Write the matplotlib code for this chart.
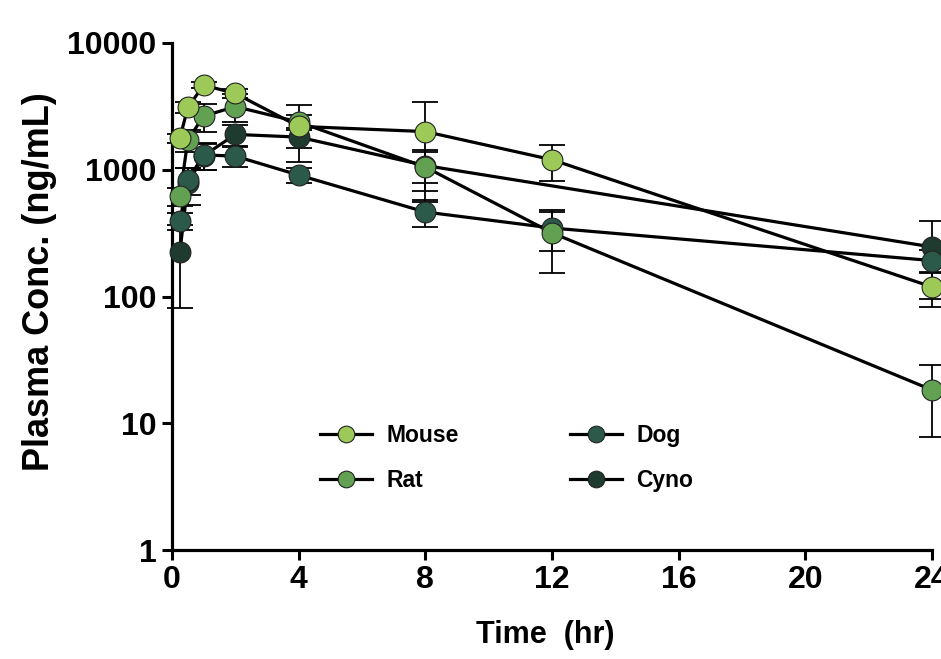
import numpy as np
import matplotlib
matplotlib.use("Agg")
import matplotlib.pyplot as plt
from matplotlib import font_manager as fm
from matplotlib.lines import Line2D

# ---- data ----
time = [0.25, 0.5, 1, 2, 4, 8, 12, 24]
time_cyno = [0.25, 0.5, 1, 2, 4, 8, 24]

mouse = [1780, 3100, 4650, 4000, 2200, 2000, 1200, 119]
mouse_sd = [150, 300, 250, 300, 1040, 1440, 380, 36]

rat = [620, 1720, 2650, 3150, 2380, 1050, 318, 18.3]
rat_sd = [100, 350, 680, 780, 320, 370, 165, 10.5]

dog = [394, 830, 1310, 1280, 908, 464, 347, 192]
dog_sd = [60, 200, 310, 230, 120, 110, 120, 40]

cyno = [224, 780, 1290, 1900, 1810, 1080, 246]
cyno_sd = [143, 250, 300, 350, 330, 290, 150]

labels = ["Mouse", "Rat", "Dog", "Cyno"]
colors = ["#9cc957", "#62a152", "#2b5a4a", "#1f3a2e"]

# ---- fonts ----
names = {f.name for f in fm.fontManager.ttflist}
base = "Liberation Sans" if "Liberation Sans" in names else "DejaVu Sans"
plt.rcParams["font.family"] = [base, "DejaVu Sans"]
plt.rcParams["font.weight"] = "bold"

fig = plt.figure(figsize=(9.41, 6.59), dpi=100)
ax = fig.add_axes([172/941, 1-550/659, (932-172)/941, (550-43)/659])

series = [
    (time, mouse, mouse_sd, colors[0], labels[0]),
    (time, rat, rat_sd, colors[1], labels[1]),
    (time, dog, dog_sd, colors[2], labels[2]),
    (time_cyno, cyno, cyno_sd, colors[3], labels[3]),
]

# lines first
for t, v, sd, c, lab in series:
    ax.plot(t, v, color="black", lw=2.3, zorder=2, clip_on=False)
# error bars
for t, v, sd, c, lab in series:
    v = np.array(v, float); sd = np.array(sd, float)
    lo = np.minimum(sd, v * 0.999)
    ax.errorbar(t, v, yerr=[lo, sd], fmt="none", ecolor="black",
                elinewidth=1.3, capsize=9.5, capthick=1.3, zorder=3, clip_on=False)
# markers (mouse drawn last = on top)
zo = {"Mouse": 8, "Rat": 7, "Dog": 6, "Cyno": 5}
for t, v, sd, c, lab in series:
    ax.plot(t, v, ls="none", marker="o", ms=15, mfc=c, mec="#222222",
            mew=0.8, zorder=zo[lab], clip_on=False)

ax.set_yscale("log")
ax.set_ylim(1, 10000)
ax.set_xlim(0, 24)
ax.set_xticks([0, 4, 8, 12, 16, 20, 24])
ax.set_yticks([1, 10, 100, 1000, 10000])
ax.set_yticklabels(["1", "10", "100", "1000", "10000"])
ax.yaxis.set_minor_locator(matplotlib.ticker.NullLocator())

for s in ["top", "right"]:
    ax.spines[s].set_visible(False)
for s in ["left", "bottom"]:
    ax.spines[s].set_linewidth(2.3)
ax.tick_params(axis="both", which="major", length=7.5, width=2.2,
               labelsize=23, pad=3.5)
for lbl in ax.get_xticklabels() + ax.get_yticklabels():
    lbl.set_fontweight("bold")

ax.set_ylabel("Plasma Conc. (ng/mL)", fontsize=26, fontweight="bold")
ax.yaxis.set_label_coords((57-172)/760, (550-282)/507)
ax.set_xlabel("Time  (hr)", fontsize=22, fontweight="bold")
ax.xaxis.set_label_coords((545-172)/760, (550-620)/507)

handles = [Line2D([], [], color="black", lw=2.3, marker="o", ms=12,
                  mfc=c, mec="#222222", mew=0.8) for c in colors]
ax.legend(handles, labels, ncol=2, frameon=False, loc="upper left",
          bbox_to_anchor=((320-172)/760, (550-424)/507), borderaxespad=0,
          borderpad=0, handlelength=2.25, handletextpad=0.65, columnspacing=4.85,
          labelspacing=0.95, prop={"size": 16.5, "weight": "bold"})

fig.savefig("out.png", dpi=100)
